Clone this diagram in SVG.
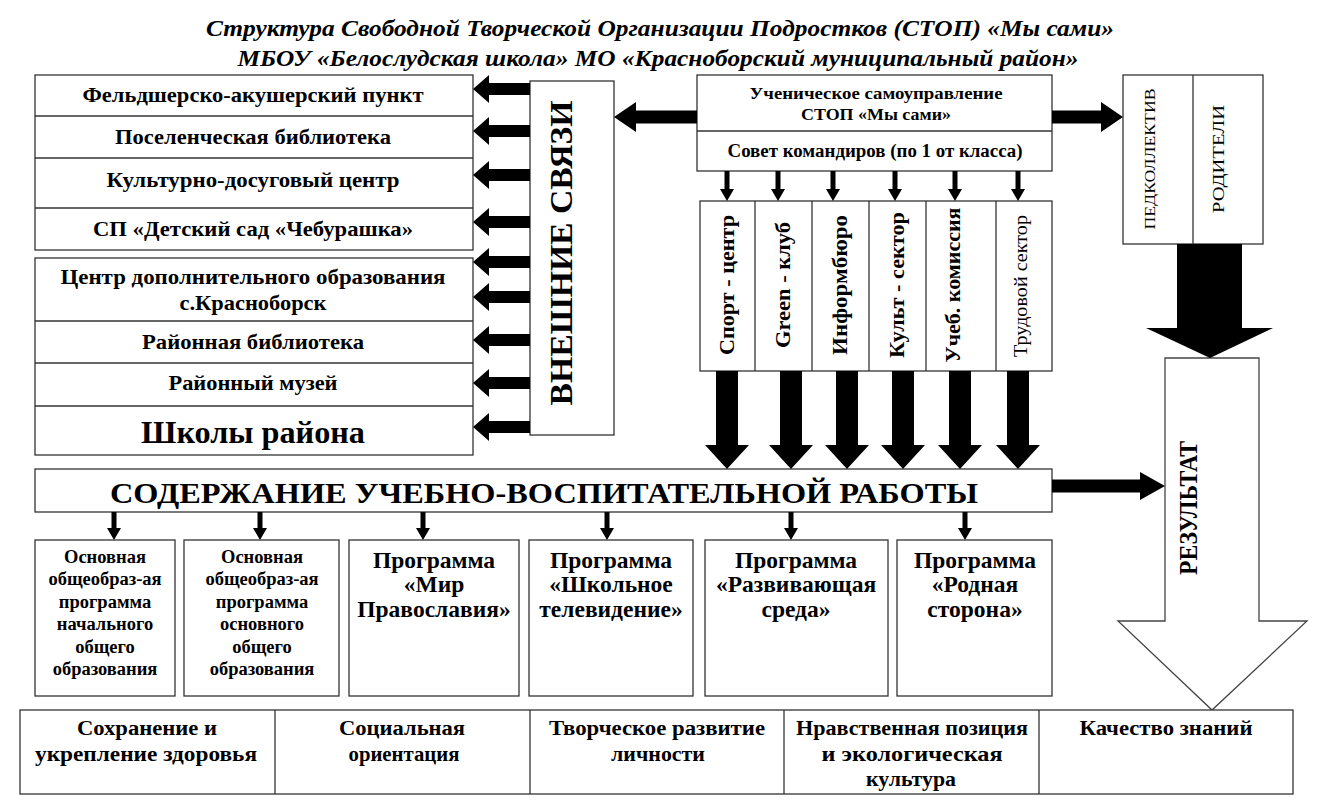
<svg xmlns="http://www.w3.org/2000/svg" xmlns:xlink="http://www.w3.org/1999/xlink" width="1320" height="803" viewBox="0 0 1320 803">
<style>
.bg{fill:#fff}
.box{fill:#fff;stroke:#333;stroke-width:1.3}
.ln{stroke:#333;stroke-width:1.3;fill:none}
.t{font-family:'Liberation Serif','Times New Roman',serif;font-weight:bold;fill:#000;text-anchor:middle}
.n{font-weight:normal}
.ti{font-family:'Liberation Serif','Times New Roman',serif;font-weight:bold;font-style:italic;fill:#000;text-anchor:middle}
.arr{fill:#000}
.warr{fill:#fff;stroke:#444;stroke-width:1.3}
</style>
<defs>
<path id="la" d="M473 0 L489 -14 L489 -6 L530 -6 L530 6 L489 6 L489 14 Z"/>
<path id="da" d="M-11 371 L11 371 L11 445 L22 445 L0 469 L-22 445 L-11 445 Z"/>
<path id="sa" d="M-2.5 171 L2.5 171 L2.5 189 L7 189 L0 201 L-7 189 L-2.5 189 Z"/>
<path id="pa" d="M-2.5 512 L2.5 512 L2.5 528 L7 528 L0 540 L-7 528 L-2.5 528 Z"/>
</defs>
<rect class="bg" x="0" y="0" width="1320" height="803"/>

<g id="title">
<text class="ti" x="660" y="36" font-size="23" textLength="908" lengthAdjust="spacingAndGlyphs">Структура Свободной  Творческой Организации Подростков (СТОП) «Мы сами»</text>
<text class="ti" x="658" y="66" font-size="23" textLength="841" lengthAdjust="spacingAndGlyphs">МБОУ «Белослудская школа» МО «Красноборский муниципальный район»</text>
</g>

<g id="external-group1">
<rect class="box" x="35" y="75" width="438" height="175"/>
<line class="ln" x1="35" y1="116" x2="473" y2="116"/>
<line class="ln" x1="35" y1="158" x2="473" y2="158"/>
<line class="ln" x1="35" y1="208" x2="473" y2="208"/>
<text class="t" x="253" y="102" font-size="21" textLength="341" lengthAdjust="spacingAndGlyphs">Фельдшерско-акушерский пункт</text>
<text class="t" x="253" y="144" font-size="21" textLength="276" lengthAdjust="spacingAndGlyphs">Поселенческая библиотека</text>
<text class="t" x="253" y="187" font-size="21" textLength="293" lengthAdjust="spacingAndGlyphs">Культурно-досуговый центр</text>
<text class="t" x="253" y="236" font-size="21" textLength="320" lengthAdjust="spacingAndGlyphs">СП «Детский сад «Чебурашка»</text>
</g>

<g id="external-group2">
<rect class="box" x="35" y="258" width="438" height="197"/>
<line class="ln" x1="35" y1="321" x2="473" y2="321"/>
<line class="ln" x1="35" y1="363" x2="473" y2="363"/>
<line class="ln" x1="35" y1="406" x2="473" y2="406"/>
<text class="t" x="253" y="284" font-size="21" textLength="385" lengthAdjust="spacingAndGlyphs">Центр дополнительного образования</text>
<text class="t" x="253" y="310" font-size="21" textLength="147" lengthAdjust="spacingAndGlyphs">с.Красноборск</text>
<text class="t" x="253" y="349" font-size="21" textLength="222" lengthAdjust="spacingAndGlyphs">Районная библиотека</text>
<text class="t" x="253" y="390" font-size="21" textLength="169" lengthAdjust="spacingAndGlyphs">Районный музей</text>
<text class="t" x="253" y="443" font-size="31" textLength="224" lengthAdjust="spacingAndGlyphs">Школы района</text>
</g>

<g id="external-links">
<rect class="box" x="530" y="81" width="84" height="354"/>
<text class="t" transform="translate(572,253) rotate(-90)" font-size="31" textLength="305" lengthAdjust="spacingAndGlyphs">ВНЕШНИЕ СВЯЗИ</text>
</g>

<g id="self-government">
<rect class="box" x="697" y="75" width="355" height="96"/>
<line class="ln" x1="697" y1="131" x2="1052" y2="131"/>
<text class="t" x="876" y="99" font-size="17" textLength="253" lengthAdjust="spacingAndGlyphs">Ученическое самоуправление</text>
<text class="t" x="876" y="120" font-size="17" textLength="150" lengthAdjust="spacingAndGlyphs">СТОП «Мы сами»</text>
<text class="t" x="875" y="157" font-size="18" textLength="295" lengthAdjust="spacingAndGlyphs">Совет командиров (по 1 от класса)</text>
</g>

<g id="sectors">
<rect class="box" x="700" y="201" width="352" height="170"/>
<line class="ln" x1="755" y1="201" x2="755" y2="371"/>
<line class="ln" x1="812" y1="201" x2="812" y2="371"/>
<line class="ln" x1="869" y1="201" x2="869" y2="371"/>
<line class="ln" x1="926" y1="201" x2="926" y2="371"/>
<line class="ln" x1="996" y1="201" x2="996" y2="371"/>
<text class="t" transform="translate(734,285) rotate(-90)" font-size="21" textLength="140" lengthAdjust="spacingAndGlyphs">Спорт - центр</text>
<text class="t" transform="translate(790,285) rotate(-90)" font-size="21" textLength="126" lengthAdjust="spacingAndGlyphs">Green - клуб</text>
<text class="t" transform="translate(847,285) rotate(-90)" font-size="21" textLength="140" lengthAdjust="spacingAndGlyphs">Информбюро</text>
<text class="t" transform="translate(904,285) rotate(-90)" font-size="21" textLength="146" lengthAdjust="spacingAndGlyphs">Культ - сектор</text>
<text class="t" transform="translate(960,285) rotate(-90)" font-size="21" textLength="155" lengthAdjust="spacingAndGlyphs">Учеб. комиссия</text>
<text class="t n" transform="translate(1027,286) rotate(-90)" font-size="18" textLength="142" lengthAdjust="spacingAndGlyphs">Трудовой сектор</text>
</g>

<g id="staff-parents">
<rect class="box" x="1123" y="75" width="140" height="169"/>
<line class="ln" x1="1193" y1="75" x2="1193" y2="244"/>
<text class="t n" transform="translate(1155,159) rotate(-90)" font-size="15" textLength="141" lengthAdjust="spacingAndGlyphs">ПЕДКОЛЛЕКТИВ</text>
<text class="t n" transform="translate(1224,159) rotate(-90)" font-size="17" textLength="108" lengthAdjust="spacingAndGlyphs">РОДИТЕЛИ</text>
</g>

<g id="content">
<rect class="box" x="35" y="469" width="1017" height="43"/>
<text class="t" x="544" y="503" font-size="30" textLength="868" lengthAdjust="spacingAndGlyphs">СОДЕРЖАНИЕ УЧЕБНО-ВОСПИТАТЕЛЬНОЙ РАБОТЫ</text>
</g>

<g id="programs">
<rect class="box" x="35" y="540" width="140" height="156"/>
<text class="t" font-size="18.5"><tspan x="105" y="563">Основная</tspan><tspan x="105" y="585">общеобраз-ая</tspan><tspan x="105" y="608">программа</tspan><tspan x="105" y="630">начального</tspan><tspan x="105" y="653">общего</tspan><tspan x="105" y="675">образования</tspan></text>
<rect class="box" x="184" y="540" width="155" height="156"/>
<text class="t" font-size="18.5"><tspan x="262" y="563">Основная</tspan><tspan x="262" y="585">общеобраз-ая</tspan><tspan x="262" y="608">программа</tspan><tspan x="262" y="630">основного</tspan><tspan x="262" y="653">общего</tspan><tspan x="262" y="675">образования</tspan></text>
<rect class="box" x="349" y="540" width="170" height="156"/>
<text class="t" font-size="23.5"><tspan x="434" y="568">Программа</tspan><tspan x="434" y="592">«Мир</tspan><tspan x="434" y="617">Православия»</tspan></text>
<rect class="box" x="529" y="540" width="164" height="156"/>
<text class="t" font-size="23.5"><tspan x="611" y="568">Программа</tspan><tspan x="611" y="592">«Школьное</tspan><tspan x="611" y="617">телевидение»</tspan></text>
<rect class="box" x="705" y="540" width="183" height="156"/>
<text class="t" font-size="23.5"><tspan x="796" y="568">Программа</tspan><tspan x="796" y="592">«Развивающая</tspan><tspan x="796" y="617">среда»</tspan></text>
<rect class="box" x="897" y="540" width="155" height="156"/>
<text class="t" font-size="23.5"><tspan x="975" y="568">Программа</tspan><tspan x="975" y="592">«Родная</tspan><tspan x="975" y="617">сторона»</tspan></text>
</g>

<g id="result">
<path class="warr" d="M1165 358 L1259 358 L1259 621 L1307 621 L1212 710 L1118 621 L1165 621 Z"/>
<text class="t" transform="translate(1197,508) rotate(-90)" font-size="26" textLength="134" lengthAdjust="spacingAndGlyphs">РЕЗУЛЬТАТ</text>
</g>

<g id="outcomes">
<rect class="box" x="20" y="710" width="1273" height="84"/>
<line class="ln" x1="275" y1="710" x2="275" y2="794"/>
<line class="ln" x1="530" y1="710" x2="530" y2="794"/>
<line class="ln" x1="784" y1="710" x2="784" y2="794"/>
<line class="ln" x1="1039" y1="710" x2="1039" y2="794"/>
<text class="t" x="147" y="735" font-size="20" textLength="140" lengthAdjust="spacingAndGlyphs">Сохранение и</text>
<text class="t" x="146" y="761" font-size="20" textLength="222" lengthAdjust="spacingAndGlyphs">укрепление здоровья</text>
<text class="t" x="402" y="735" font-size="20" textLength="126" lengthAdjust="spacingAndGlyphs">Социальная</text>
<text class="t" x="404" y="761" font-size="20" textLength="111" lengthAdjust="spacingAndGlyphs">ориентация</text>
<text class="t" x="657" y="735" font-size="20" textLength="216" lengthAdjust="spacingAndGlyphs">Творческое развитие</text>
<text class="t" x="658" y="761" font-size="20" textLength="94" lengthAdjust="spacingAndGlyphs">личности</text>
<text class="t" x="912" y="735" font-size="20" textLength="232" lengthAdjust="spacingAndGlyphs">Нравственная позиция</text>
<text class="t" x="912" y="761" font-size="20" textLength="181" lengthAdjust="spacingAndGlyphs">и экологическая</text>
<text class="t" x="911" y="786" font-size="20" textLength="90" lengthAdjust="spacingAndGlyphs">культура</text>
<text class="t" x="1166" y="735" font-size="20" textLength="173" lengthAdjust="spacingAndGlyphs">Качество знаний</text>
</g>

<g id="connectors" class="arr">
<use xlink:href="#la" y="89"/>
<use xlink:href="#la" y="131"/>
<use xlink:href="#la" y="175"/>
<use xlink:href="#la" y="222"/>
<use xlink:href="#la" y="262"/>
<use xlink:href="#la" y="297"/>
<use xlink:href="#la" y="340"/>
<use xlink:href="#la" y="383"/>
<use xlink:href="#la" y="427"/>
<path d="M614 117 L636 102 L636 110.5 L697 110.5 L697 123.5 L636 123.5 L636 132 Z"/>
<path d="M1123 117 L1101 102 L1101 110.5 L1052 110.5 L1052 123.5 L1101 123.5 L1101 132 Z"/>
<path d="M1165 486 L1140 472 L1140 479.5 L1052 479.5 L1052 492.5 L1140 492.5 L1140 500 Z"/>
<use xlink:href="#sa" x="727"/>
<use xlink:href="#sa" x="778"/>
<use xlink:href="#sa" x="833"/>
<use xlink:href="#sa" x="895"/>
<use xlink:href="#sa" x="955"/>
<use xlink:href="#sa" x="1018"/>
<use xlink:href="#da" x="727"/>
<use xlink:href="#da" x="791"/>
<use xlink:href="#da" x="847"/>
<use xlink:href="#da" x="903"/>
<use xlink:href="#da" x="960"/>
<use xlink:href="#da" x="1018"/>
<use xlink:href="#pa" x="114"/>
<use xlink:href="#pa" x="260"/>
<use xlink:href="#pa" x="423"/>
<use xlink:href="#pa" x="607"/>
<use xlink:href="#pa" x="791"/>
<use xlink:href="#pa" x="965"/>
<path d="M1177 244 L1242 244 L1242 328 L1273 328 L1210 358 L1146 328 L1177 328 Z"/>
</g>
</svg>
